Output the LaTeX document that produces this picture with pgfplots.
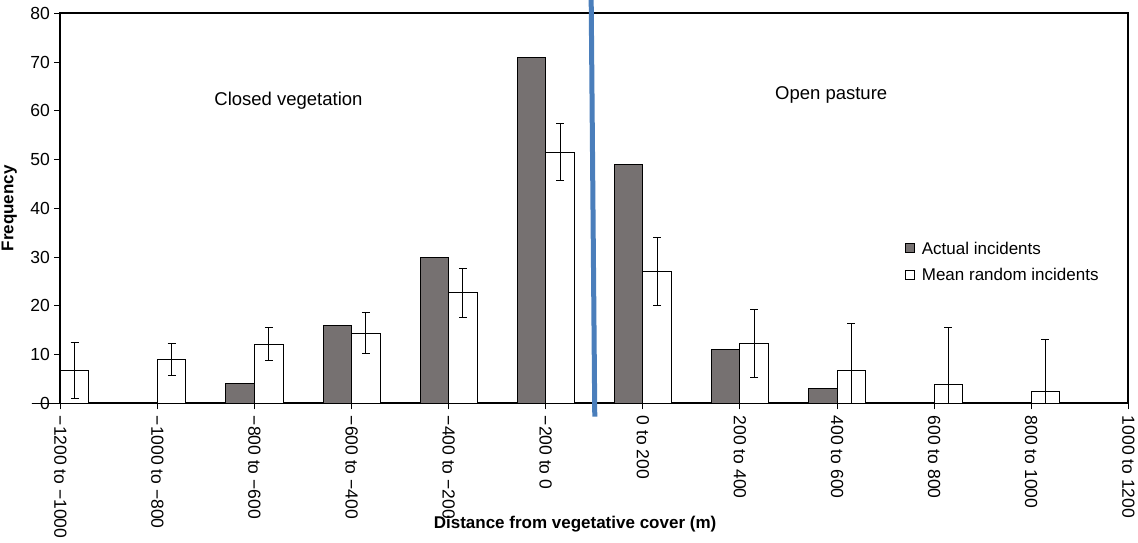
\documentclass[border=0pt]{standalone}
\usepackage{pgfplots}
\pgfplotsset{compat=1.18}
\usepackage{pgfplotstable}
\usepackage{fontspec}
\setmainfont{Liberation Sans}
\definecolor{darkbar}{HTML}{767171}
\definecolor{bluel}{HTML}{4A7EBB}

\pgfplotstableread{
x y
0 0
1 0
2 4
3 16
4 30
5 71
6 49
7 11
8 3
9 0
10 0
}\actual

\pgfplotstableread{
x y ep em
0 6.7 5.8 5.8
1 9.0 3.25 3.25
2 12.1 3.35 3.35
3 14.4 4.25 4.25
4 22.7 5.05 5.05
5 51.5 5.8 5.8
6 27.0 7.0 7.0
7 12.2 7.0 7.0
8 6.7 9.7 6.7
9 3.9 11.6 3.9
10 2.5 10.6 2.5
}\random

\begin{document}
\begin{tikzpicture}
\begin{axis}[
  name=main,
  at={(0pt,0pt)}, anchor=south west,
  scale only axis,
  width=1068pt, height=390pt,
  xmin=0, xmax=11, ymin=0, ymax=80,
  clip=false,
  ybar=0pt, bar width=0.294,
  xtick={0,...,11},
  xticklabels={{−1200 to −1000},{−1000 to −800},{−800 to −600},{−600 to −400},{−400 to −200},{−200 to 0},{0 to 200},{200 to 400},{400 to 600},{600 to 800},{800 to 1000},{1000 to 1200}},
  ytick={0,10,...,80},
  tick pos=left,
  tick align=outside,
  major tick length=6pt,
  tick style={black, line width=1pt},
  axis line style={black, line width=1.8pt},
  /pgf/number format/assume math mode=true,
  yticklabel style={font=\fontsize{17.5}{21}\selectfont, xshift=-1pt},
  xticklabel shift=3pt,
  xticklabel style={font=\fontsize{17.5}{21}\selectfont, rotate=-90, anchor=west},
  ylabel={\textbf{Frequency}},
  ylabel style={font=\fontsize{17}{20}\selectfont, at={(axis description cs:-0.0478,0.5)}, anchor=center},
  xlabel={\textbf{Distance from vegetative cover (m)}},
  xlabel style={font=\fontsize{17}{20}\selectfont, at={(axis description cs:0.482,0)}, yshift=-121pt, anchor=center},
  legend style={at={(axis description cs:0.788,0.425)}, anchor=north west, draw=none, fill=none,
    font=\fontsize{17}{20}\selectfont, row sep=9pt, /tikz/every odd column/.append style={column sep=5pt}},
  legend cell align=left,
  legend image code/.code={\draw[#1, line width=0.8pt] (0pt,-4pt) rectangle (9pt,5pt);},
]
\addplot[fill=darkbar, draw=black, line width=1pt] table[x=x,y=y]{\actual};
\addlegendentry{Actual incidents}
\addplot[fill=white, draw=black, line width=1pt,
  error bars/.cd, y dir=both, y explicit,
  error bar style={line width=1pt, black},
  error mark options={mark size=4pt, line width=1pt, black, rotate=90}]
  table[x=x,y=y,y error plus=ep,y error minus=em]{\random};
\addlegendentry{Mean random incidents}
\addplot[sharp plot, bluel, line width=5pt, forget plot] coordinates {(5.468,82.7) (5.505,-2.75)};
\node[font=\fontsize{18.5}{22}\selectfont] at (axis cs:2.35,62.0) {Closed vegetation};
\node[font=\fontsize{18.5}{22}\selectfont] at (axis cs:7.94,63.2) {Open pasture};
\end{axis}
\pgfresetboundingbox
\path[use as bounding box] (-60.3pt,-138.7pt) rectangle (1077.7pt,403.3pt);
\end{tikzpicture}
\end{document}
